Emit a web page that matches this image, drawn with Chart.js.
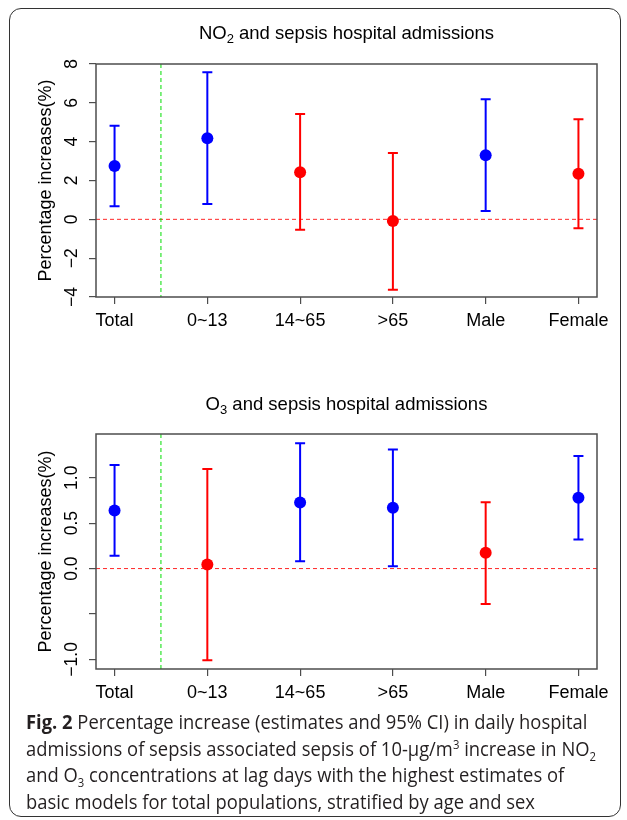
<!DOCTYPE html>
<html>
<head>
<meta charset="utf-8">
<script src="https://cdn.jsdelivr.net/npm/chart.js@4.4.1/dist/chart.umd.min.js"></script>
<style>
  html, body { margin: 0; padding: 0; background: #fff; }
  #page { position: relative; width: 627px; height: 820px; overflow: hidden; background: #fff; }
  #frame { position: absolute; left: 9px; top: 8px; width: 612px; height: 809px;
           border: 1.5px solid #333; border-radius: 12px; box-sizing: border-box; }
  canvas { position: absolute; left: 0; }
  #c1 { top: 0; }
  #c2 { top: 380px; }
  #caption { position: absolute; left: 26px; top: 709px; font-family: "Open Sans", sans-serif;
             font-size: 19.5px; color: #231f20; line-height: 26.5px; transform-origin: 0 0; white-space: nowrap; }
  #caption b { font-weight: 700; }
  #caption sub, #caption sup { font-size: 12px; line-height: 0; }
</style>
</head>
<body>
<div id="page">
  <div id="frame"></div>
  <canvas id="c1" width="627" height="380"></canvas>
  <canvas id="c2" width="627" height="340"></canvas>
  <div id="caption">
    <div><b>Fig. 2</b> Percentage increase (estimates and 95% CI) in daily hospital</div>
    <div>admissions of sepsis associated sepsis of 10-μg/m<sup>3</sup> increase in NO<sub>2</sub></div>
    <div>and O<sub>3</sub> concentrations at lag days with the highest estimates of</div>
    <div>basic models for total populations, stratified by age and sex</div>
  </div>
</div>
<script>
// categorias (eje x)
var categories = ["Total", "0~13", "14~65", ">65", "Male", "Female"];

// NO2: estimacion y IC 95%
var no2Est   = [2.75, 4.18, 2.43, -0.09, 3.30, 2.35];
var no2Lower = [0.67, 0.79, -0.54, -3.63, 0.43, -0.46];
var no2Upper = [4.82, 7.57, 5.42, 3.42, 6.19, 5.16];
var no2Ticks = [-4, -2, 0, 2, 4, 6, 8];
var no2TickLabels = ["\u22124", "\u22122", "0", "2", "4", "6", "8"];

// O3: estimacion y IC 95%
var o3Est   = [0.64, 0.044, 0.728, 0.67, 0.173, 0.78];
var o3Lower = [0.14, -1.01, 0.08, 0.026, -0.39, 0.32];
var o3Upper = [1.14, 1.096, 1.38, 1.31, 0.73, 1.24];
var o3Ticks = [-1, -0.5, 0, 0.5, 1];
var o3TickLabels = ["\u22121.0", "", "0.0", "0.5", "1.0"];

var yTitle = "Percentage increases(%)";

var FONT = "'Liberation Sans', Arial, sans-serif";
var AXIS_COLOR = "#4d4d4d";

var ChartErrores = (function () {
    var obj = {};

    function colorPunto(lower) {
        return lower > 0 ? "#0000FF" : "#FF0000";
    }

    // lineas de referencia, barras de error, caja, etiquetas del eje y, titulo
    var errorPlugin = {
        id: "errorBars",
        beforeDatasetsDraw: function (chart) {
            var ctx = chart.ctx;
            var xs = chart.scales.x, ys = chart.scales.y;
            var area = chart.chartArea;
            var cfg = chart.options.plugins.errorBars;

            ctx.save();
            ctx.lineWidth = 1;
            ctx.setLineDash([4, 3]);
            ctx.strokeStyle = "rgba(255,0,0,0.85)";
            var y0 = ys.getPixelForValue(0);
            ctx.beginPath();
            ctx.moveTo(area.left, y0);
            ctx.lineTo(area.right, y0);
            ctx.stroke();

            ctx.strokeStyle = "#00DD00";
            var xg = xs.getPixelForValue(1.5);
            ctx.beginPath();
            ctx.moveTo(xg, area.top);
            ctx.lineTo(xg, area.bottom);
            ctx.stroke();
            ctx.setLineDash([]);

            ctx.lineWidth = 2;
            cfg.lower.forEach(function (lo, i) {
                var x = xs.getPixelForValue(i + 1);
                var yl = ys.getPixelForValue(lo);
                var yu = ys.getPixelForValue(cfg.upper[i]);
                ctx.strokeStyle = colorPunto(lo);
                ctx.beginPath();
                ctx.moveTo(x, yl); ctx.lineTo(x, yu);
                ctx.moveTo(x - 5, yl); ctx.lineTo(x + 5, yl);
                ctx.moveTo(x - 5, yu); ctx.lineTo(x + 5, yu);
                ctx.stroke();
            });
            ctx.restore();
        },
        afterDraw: function (chart) {
            var ctx = chart.ctx;
            var ys = chart.scales.y;
            var area = chart.chartArea;
            var cfg = chart.options.plugins.errorBars;

            ctx.save();
            ctx.strokeStyle = AXIS_COLOR;
            ctx.lineWidth = 1.5;
            ctx.strokeRect(area.left, area.top, area.right - area.left, area.bottom - area.top);

            // etiquetas del eje y giradas
            ctx.fillStyle = "#000";
            ctx.font = "17.5px " + FONT;
            ctx.textAlign = "center";
            ctx.textBaseline = "alphabetic";
            cfg.ticks.forEach(function (v, i) {
                if (!cfg.tickLabels[i]) return;
                ctx.save();
                ctx.translate(cfg.tickLabelX, ys.getPixelForValue(v));
                ctx.rotate(-Math.PI / 2);
                ctx.fillText(cfg.tickLabels[i], 0, 0);
                ctx.restore();
            });

            // titulo con subindice
            var parts = cfg.title;
            var big = "18.5px " + FONT, small = "13px " + FONT;
            var total = 0;
            parts.forEach(function (p) {
                ctx.font = p.sub ? small : big;
                p.w = ctx.measureText(p.t).width;
                total += p.w;
            });
            var x = (area.left + area.right) / 2 - total / 2;
            ctx.textAlign = "left";
            parts.forEach(function (p) {
                ctx.font = p.sub ? small : big;
                ctx.fillText(p.t, x, cfg.titleY + (p.sub ? 4 : 0));
                x += p.w;
            });
            ctx.restore();
        }
    };

    function crearGrafico(id, datos) {
        var puntos = datos.est.map(function (v, i) { return { x: i + 1, y: v }; });
        var colores = datos.lower.map(colorPunto);
        var ejeGrid = { display: true, drawOnChartArea: false, drawTicks: true, tickLength: 7, color: AXIS_COLOR, lineWidth: 1.2 };

        return new Chart(document.getElementById(id), {
            type: "scatter",
            data: {
                datasets: [{
                    data: puntos,
                    pointRadius: 6,
                    pointHoverRadius: 6,
                    pointBackgroundColor: colores,
                    pointBorderWidth: 0
                }]
            },
            options: {
                responsive: false,
                animation: false,
                events: [],
                layout: { padding: datos.padding },
                plugins: {
                    legend: { display: false },
                    tooltip: { enabled: false },
                    errorBars: {
                        lower: datos.lower,
                        upper: datos.upper,
                        ticks: datos.ticks,
                        tickLabels: datos.tickLabels,
                        tickLabelX: 77,
                        title: datos.title,
                        titleY: datos.titleY
                    }
                },
                scales: {
                    x: {
                        type: "linear",
                        min: 0.8,
                        max: 6.2,
                        afterBuildTicks: function (scale) {
                            scale.ticks = categories.map(function (c, i) { return { value: i + 1 }; });
                        },
                        afterFit: function (scale) { scale.height = 40; },
                        ticks: {
                            autoSkip: false,
                            maxRotation: 0,
                            padding: 6,
                            color: "#000",
                            font: { family: FONT, size: 18 },
                            callback: function (value) { return categories[Math.round(value) - 1]; }
                        },
                        grid: ejeGrid,
                        border: { display: false }
                    },
                    y: {
                        min: datos.min,
                        max: datos.max,
                        afterBuildTicks: function (scale) {
                            scale.ticks = datos.ticks.map(function (v) { return { value: v }; });
                        },
                        afterFit: function (scale) { scale.width = 76; },
                        ticks: { display: false },
                        grid: ejeGrid,
                        border: { display: false },
                        title: {
                            display: true,
                            text: yTitle,
                            color: "#000",
                            font: { family: FONT, size: 18 },
                            padding: { top: 15, bottom: 0 }
                        }
                    }
                }
            },
            plugins: [errorPlugin]
        });
    }

    obj.init = function () {
        crearGrafico("c1", {
            est: no2Est, lower: no2Lower, upper: no2Upper,
            ticks: no2Ticks, tickLabels: no2TickLabels,
            min: -4, max: 8,
            padding: { left: 20, right: 30, top: 64, bottom: 43 },
            title: [{ t: "NO" }, { t: "2", sub: true }, { t: " and sepsis hospital admissions" }],
            titleY: 39
        });
        crearGrafico("c2", {
            est: o3Est, lower: o3Lower, upper: o3Upper,
            ticks: o3Ticks, tickLabels: o3TickLabels,
            min: -1.106, max: 1.482,
            padding: { left: 20, right: 30, top: 54, bottom: 11 },
            title: [{ t: "O" }, { t: "3", sub: true }, { t: " and sepsis hospital admissions" }],
            titleY: 30
        });

        // ajustar el ancho del pie de figura
        var cap = document.getElementById("caption");
        var primera = cap.children[0];
        var ancho = primera.getBoundingClientRect().width;
        cap.style.transform = "scaleX(" + (570 / ancho) + ")";
    };

    return obj;
}());

ChartErrores.init();
</script>
</body>
</html>
